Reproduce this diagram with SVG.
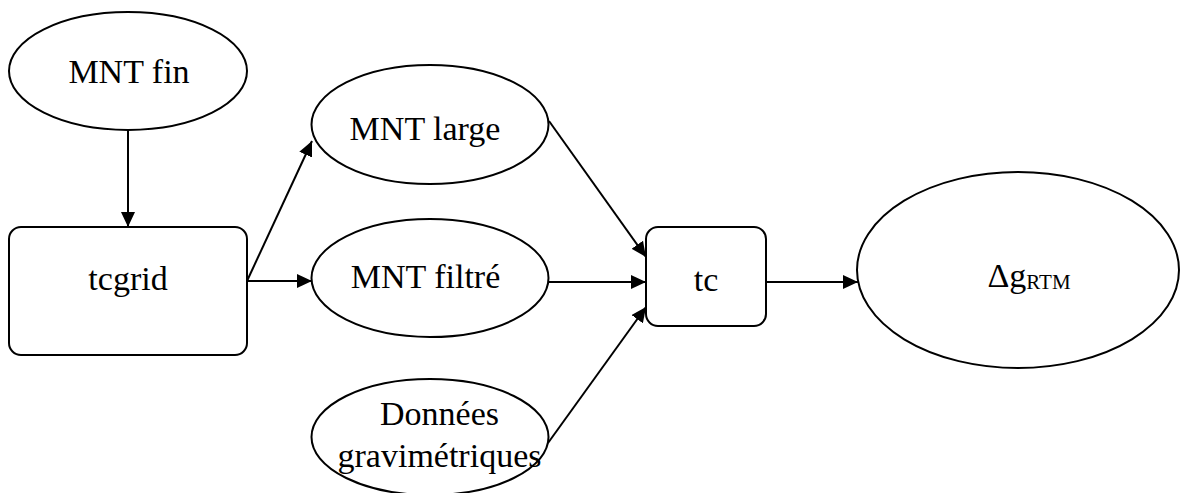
<svg xmlns="http://www.w3.org/2000/svg" width="1181" height="493" viewBox="0 0 1181 493">
<style>
.shape{fill:#fff;stroke:#000;stroke-width:2}
.lbl{font-family:'Liberation Serif','Times New Roman','DejaVu Serif',serif;font-size:34px;fill:#000;text-anchor:middle}
.conn{stroke:#000;stroke-width:2;fill:none;marker-end:url(#arr)}
</style>
<defs>
<marker id="arr" viewBox="0 0 15 14" refX="15" refY="7" markerWidth="15" markerHeight="14" markerUnits="userSpaceOnUse" orient="auto">
<path d="M0,0 L15,7 L0,14 Z" fill="#000"/>
</marker>
</defs>
<rect width="1181" height="493" fill="#fff"/>
<g id="connectors">
<line class="conn" x1="128" y1="130" x2="128" y2="227"/>
<line class="conn" x1="247" y1="281" x2="312" y2="141"/>
<line class="conn" x1="247" y1="281" x2="312" y2="281"/>
<line class="conn" x1="549" y1="121" x2="646" y2="257"/>
<line class="conn" x1="549" y1="282" x2="646" y2="282"/>
<line class="conn" x1="548" y1="443" x2="646" y2="307"/>
<line class="conn" x1="766" y1="282" x2="858" y2="282"/>
</g>
<g id="mnt-fin">
<ellipse class="shape" cx="128" cy="71" rx="119" ry="59"/>
<text class="lbl" x="129" y="83">MNT fin</text>
</g>
<g id="tcgrid">
<rect class="shape" x="9" y="227" width="238" height="128" rx="12"/>
<text class="lbl" x="128" y="290">tcgrid</text>
</g>
<g id="mnt-large">
<ellipse class="shape" cx="430" cy="124.5" rx="118.5" ry="59.5"/>
<text class="lbl" x="425" y="140">MNT large</text>
</g>
<g id="mnt-filtre">
<ellipse class="shape" cx="430" cy="278" rx="118.5" ry="59"/>
<text class="lbl" x="425.5" y="288">MNT filtré</text>
</g>
<g id="donnees">
<ellipse class="shape" cx="430" cy="437" rx="118.5" ry="58"/>
<text class="lbl" x="439.5" y="425">Données</text>
<text class="lbl" x="439.5" y="467">gravimétriques</text>
</g>
<g id="tc">
<rect class="shape" x="646" y="227" width="120" height="99" rx="12"/>
<text class="lbl" x="706" y="291">tc</text>
</g>
<g id="delta-g">
<ellipse class="shape" cx="1018" cy="270" rx="161" ry="98"/>
<text class="lbl" x="1029" y="287">Δg<tspan font-size="21" dy="2">RTM</tspan></text>
</g>
</svg>
